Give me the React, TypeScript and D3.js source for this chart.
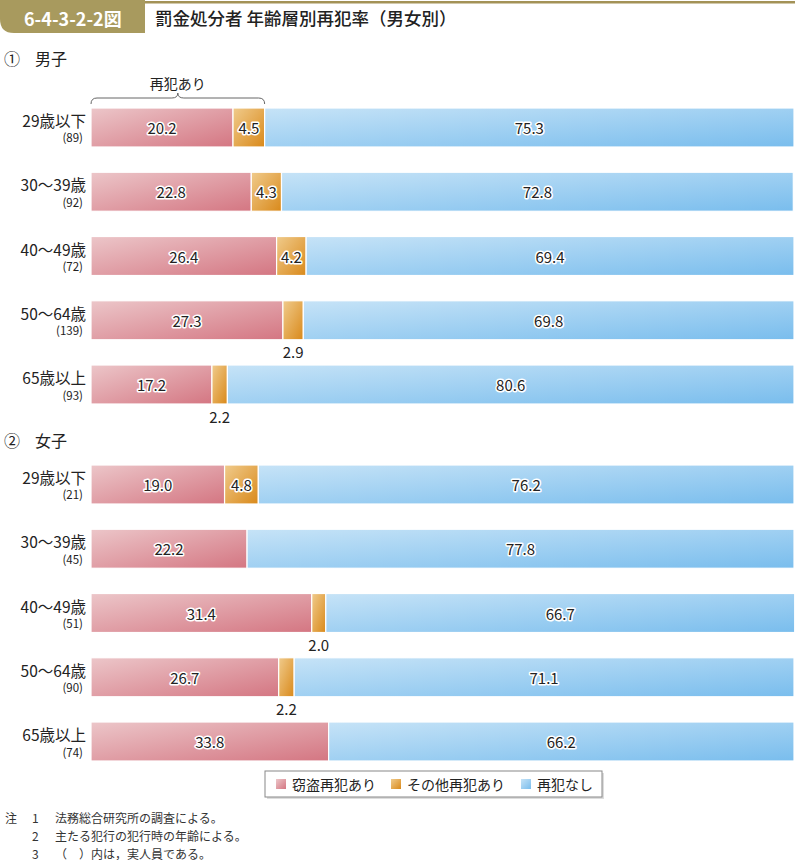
import React from 'react';
import * as d3 from 'd3';

const categories = ['29歳以下', '30～39歳', '40～49歳', '50～64歳', '65歳以上'];
const maleCounts = [89, 92, 72, 139, 93];
const maleTheft = [20.2, 22.8, 26.4, 27.3, 17.2];
const maleOther = [4.5, 4.3, 4.2, 2.9, 2.2];
const maleNone = [75.3, 72.8, 69.4, 69.8, 80.6];
const femaleCounts = [21, 45, 51, 90, 74];
const femaleTheft = [19.0, 22.2, 31.4, 26.7, 33.8];
const femaleOther = [4.8, 0, 2.0, 2.2, 0];
const femaleNone = [76.2, 77.8, 66.7, 71.1, 66.2];
const seriesNames = ['窃盗再犯あり', 'その他再犯あり', '再犯なし'];
const notes = ['法務総合研究所の調査による。', '主たる犯行の犯行時の年齢による。', '（　）内は，実人員である。'];

const W = 796;
const H = 860;
const FONT = '"Noto Sans CJK JP", "Noto Sans", sans-serif';
const SERIF = '"Noto Sans CJK JP", "DejaVu Serif", serif';

const x = d3.scaleLinear().domain([0, 100]).range([91, 794]);
const yMale = d3.scaleBand<number>().domain(d3.range(5)).range([108, 404]).paddingInner(0.393).paddingOuter(0);
const yFemale = d3.scaleBand<number>().domain(d3.range(5)).range([465, 761]).paddingInner(0.393).paddingOuter(0);

const grads = [
  { id: 'gTheft', c0: '#ecc6c9', c1: '#d47682' },
  { id: 'gOther', c0: '#f0cb8c', c1: '#d9891a' },
  { id: 'gNone', c0: '#c6e3f7', c1: '#79bded' },
];

function Panel({ y, counts, theft, other, none }: any) {
  const rows = categories.map((c, i) => {
    const vals = [theft[i], other[i], none[i]];
    let acc = 0;
    const segs = vals.map((v, k) => {
      const s = { k, v, x0: acc, x1: acc + v };
      acc += v;
      return s;
    });
    return { c, i, segs };
  });
  const bh = y.bandwidth();
  return (
    <g>
      {rows.map((r) => {
        const top = y(r.i);
        const cy = top + bh / 2;
        return (
          <g key={r.i}>
            <text x={86} y={cy - 7.5} textAnchor="end" dominantBaseline="central" fontSize={15.5} fill="#222" fontFamily={FONT}>{r.c}</text>
            <text x={83} y={cy + 10} textAnchor="end" dominantBaseline="central" fontSize={11.5} fill="#222" fontFamily={FONT}>({counts[r.i]})</text>
            {r.segs.filter((s) => s.v > 0).map((s) => (
              <rect key={s.k} x={x(s.x0)} y={top} width={x(s.x1) - x(s.x0)} height={bh} fill={`url(#${grads[s.k].id})`} stroke="#fff" strokeWidth={1.2} />
            ))}
            {r.segs.filter((s) => s.v > 0).map((s) => {
              const mx = (x(s.x0) + x(s.x1)) / 2;
              const inside = s.v >= 3;
              const label = s.v.toFixed(1);
              if (inside) {
                return (
                  <text key={'t' + s.k} x={mx} y={cy} textAnchor="middle" dominantBaseline="central" fontSize={15} fill="#222" stroke="#fff" strokeWidth={3} paintOrder="stroke" strokeLinejoin="round" fontFamily={FONT}>{label}</text>
                );
              }
              return (
                <text key={'t' + s.k} x={mx} y={top + bh + 12} textAnchor="middle" dominantBaseline="central" fontSize={15} fill="#222" fontFamily={FONT}>{label}</text>
              );
            })}
          </g>
        );
      })}
    </g>
  );
}

export default function App() {
  const bx0 = x(0);
  const bx1 = x(maleTheft[0] + maleOther[0]);
  const bmid = (bx0 + bx1) / 2;
  const bracket = `M${bx0},104 Q${bx0},98 ${bx0 + 6},98 L${bmid - 6},98 Q${bmid},98 ${bmid},93 Q${bmid},98 ${bmid + 6},98 L${bx1 - 6},98 Q${bx1},98 ${bx1},104`;
  const legendX = [276, 391, 521];
  return (
    <div style={{ position: 'absolute', left: 0, top: 0 }}>
      <svg width={W} height={H} style={{ display: 'block' }}>
        <defs>
          {grads.map((g) => (
            <linearGradient key={g.id} id={g.id} x1="0" y1="0" x2="1" y2="1">
              <stop offset="0%" stopColor={g.c0} />
              <stop offset="100%" stopColor={g.c1} />
            </linearGradient>
          ))}
        </defs>
        <rect x={0} y={0} width={W} height={H} fill="#fff" />
        {/* header */}
        <rect x={0} y={1} width={795} height={2.5} fill="#a39257" />
        <path d="M0,0 L145,0 L145,33 L14,33 Q0,33 0,19 Z" fill="#a89a5e" />
        <text x={24} y={18} dominantBaseline="central" fontSize={18} fontWeight="bold" fill="#fff" fontFamily={FONT}>6-4-3-2-2図</text>
        <text x={155} y={17} dominantBaseline="central" fontSize={17.5} fontWeight={500} fill="#222" fontFamily={FONT}>罰金処分者 年齢層別再犯率（男女別）</text>
        {/* section headings */}
        <text x={4} y={58} dominantBaseline="central" fontSize={16} fill="#222" fontFamily={FONT}>①</text>
        <text x={35} y={58} dominantBaseline="central" fontSize={16} fill="#222" fontFamily={FONT}>男子</text>
        <text x={4} y={440} dominantBaseline="central" fontSize={16} fill="#222" fontFamily={FONT}>②</text>
        <text x={35} y={440} dominantBaseline="central" fontSize={16} fill="#222" fontFamily={FONT}>女子</text>
        {/* bracket */}
        <path d={bracket} fill="none" stroke="#666" strokeWidth={1} />
        <text x={bmid} y={83} textAnchor="middle" dominantBaseline="central" fontSize={14} fill="#222" fontFamily={FONT}>再犯あり</text>
        <Panel y={yMale} counts={maleCounts} theft={maleTheft} other={maleOther} none={maleNone} />
        <Panel y={yFemale} counts={femaleCounts} theft={femaleTheft} other={femaleOther} none={femaleNone} />
        {/* legend */}
        <rect x={267} y={773} width={337} height={26} fill="#ddd" />
        <rect x={265} y={771} width={337} height={26} fill="#fff" stroke="#888" strokeWidth={1} />
        {seriesNames.map((n, k) => (
          <g key={n}>
            <rect x={legendX[k]} y={779} width={10} height={10} fill={`url(#${grads[k].id})`} />
            <text x={legendX[k] + 16} y={784} dominantBaseline="central" fontSize={14} fill="#222" fontFamily={FONT}>{n}</text>
          </g>
        ))}
        {/* notes */}
        <text x={5} y={817} dominantBaseline="central" fontSize={12} fill="#333" fontFamily={SERIF}>注</text>
        {notes.map((t, i) => (
          <g key={i}>
            <text x={32} y={817 + i * 18} dominantBaseline="central" fontSize={12} fill="#333" fontFamily={SERIF}>{i + 1}</text>
            <text x={55} y={817 + i * 18} dominantBaseline="central" fontSize={12} fill="#333" fontFamily={SERIF}>{t}</text>
          </g>
        ))}
      </svg>
    </div>
  );
}
